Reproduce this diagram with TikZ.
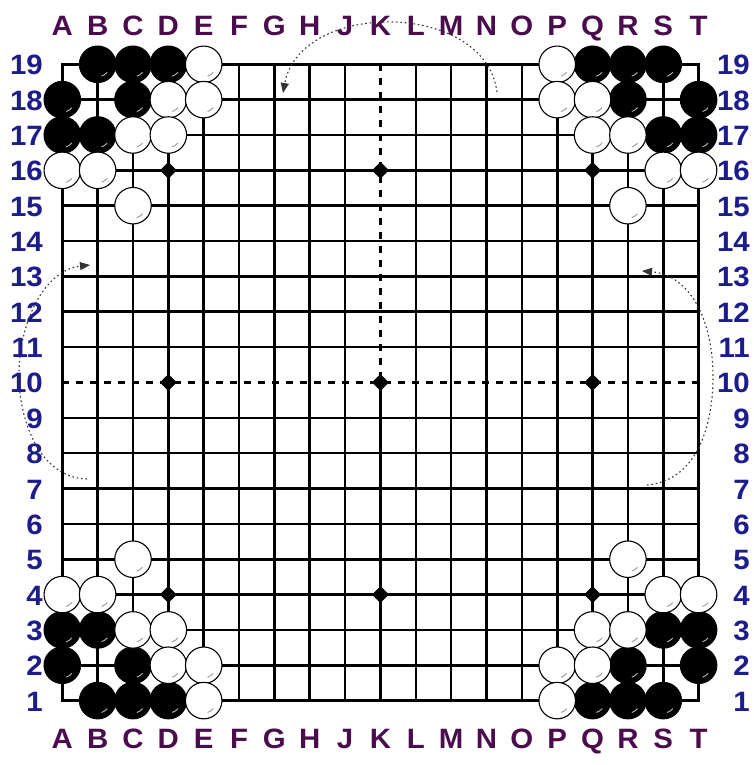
\documentclass[tikz,border=0pt]{standalone}
\usepackage{fontspec}
\setmainfont{Liberation Sans}
\usetikzlibrary{shapes.geometric,arrows.meta}
\definecolor{colcol}{RGB}{75,12,78}
\definecolor{rowcol}{RGB}{28,28,140}
\begin{document}
\begin{tikzpicture}[x=1pt,y=-1pt,
  gridline/.style={line width=2.6pt, line cap=rect},
  dashline/.style={line width=2.6pt, dash pattern=on 7pt off 7pt},
  stone/.style={circle, minimum size=36.5pt, inner sep=0pt, draw=black, line width=1.1pt},
  bst/.style={stone, fill=black, path picture={\draw[gray!55,line width=0.9pt] ([shift={(-72:12.5pt)}]path picture bounding box.center) arc[start angle=-72,end angle=-40,radius=12.5pt];}},
  wst/.style={stone, fill=white, path picture={\draw[gray!80,line width=0.9pt] ([shift={(-72:12.5pt)}]path picture bounding box.center) arc[start angle=-72,end angle=-40,radius=12.5pt];}},
  hoshi/.style={diamond, fill=black, inner sep=0pt, minimum size=17pt},
  collab/.style={font=\fontsize{28}{30}\bfseries\selectfont, text=colcol, inner sep=0pt, anchor=base, xscale=1.05},
  rowlab/.style={font=\fontsize{28}{30}\bfseries\selectfont, text=rowcol, inner sep=0pt, xscale=1.05},
  arcline/.style={line width=1.1pt, dash pattern=on 1.6pt off 2.8pt, black!80, -{Triangle[length=10pt,width=8pt]}}
]
\useasboundingbox[fill=white] (0,0) rectangle (753,765);

% column letters
\foreach \L [count=\i from 0] in {A,B,C,D,E,F,G,H,J,K,L,M,N,O,P,Q,R,S,T} {
  \node[collab] (top\L) at ({62.3+35.35*\i},36) {\L};
  \node[collab] (bot\L) at ({62.3+35.35*\i},748.5) {\L};
}
% row numbers
\foreach \r in {1,...,19} {
  \node[rowlab, anchor=base east] (left\r) at (43,{64.3+35.35*(19-\r)+10.5}) {\r};
  \node[rowlab, anchor=base east] (right\r) at (750,{64.3+35.35*(19-\r)+10.5}) {\r};
}

\begin{scope}[shift={(62.3pt,-64.3pt)}, x=35.35pt, y=-35.35pt]
  % grid
  \foreach \i in {0,...,8,10,11,...,18} {
    \draw[gridline] (\i,0) -- (\i,18);
    \draw[gridline] (0,\i) -- (18,\i);
  }
  \draw[gridline] (9,9) -- (9,18);
  \draw[dashline] (9,0) -- (9,9);
  \draw[dashline] (0,9) -- (18,9);
  % star points
  \foreach \c/\n in {3/D,9/K,15/Q} {
    \foreach \r/\m in {3/16,9/10,15/4} {
      \node[hoshi] (h\n\m) at (\c,\r) {};
    }
  }
  % black stones
  \foreach \c/\r/\n in {1/0/B19,2/0/C19,3/0/D19,0/1/A18,2/1/C18,0/2/A17,1/2/B17,
      15/0/Q19,16/0/R19,17/0/S19,16/1/R18,18/1/T18,17/2/S17,18/2/T17,
      0/16/A3,1/16/B3,0/17/A2,2/17/C2,1/18/B1,2/18/C1,3/18/D1,
      17/16/S3,18/16/T3,16/17/R2,18/17/T2,15/18/Q1,16/18/R1,17/18/S1} {
    \node[bst] (s\n) at (\c,\r) {};
  }
  % white stones
  \foreach \c/\r/\n in {4/0/E19,3/1/D18,4/1/E18,2/2/C17,3/2/D17,0/3/A16,1/3/B16,2/4/C15,
      14/0/P19,14/1/P18,15/1/Q18,15/2/Q17,16/2/R17,17/3/S16,18/3/T16,16/4/R15,
      2/14/C5,0/15/A4,1/15/B4,2/16/C3,3/16/D3,3/17/D2,4/17/E2,4/18/E1,
      16/14/R5,17/15/S4,18/15/T4,15/16/Q3,16/16/R3,14/17/P2,15/17/Q2,14/18/P1} {
    \node[wst] (s\n) at (\c,\r) {};
  }
\end{scope}

% rotation arcs
\coordinate (topS) at (497,92);
\coordinate (topE) at (283,93);
\coordinate (leftS) at (87,479);
\coordinate (leftM) at (19,372);
\coordinate (leftE) at (90,265);
\coordinate (rightS) at (647,485);
\coordinate (rightM) at (713,377);
\coordinate (rightE) at (642,271);
\draw[arcline] (topS) .. controls (485,0) and (300,0) .. (topE);
\draw[arcline] (leftS) .. controls (40,478) and (18,420) .. (leftM) .. controls (20,320) and (45,270) .. (leftE);
\draw[arcline] (rightS) .. controls (700,480) and (713,420) .. (rightM) .. controls (713,320) and (690,275) .. (rightE);
\end{tikzpicture}
\end{document}
